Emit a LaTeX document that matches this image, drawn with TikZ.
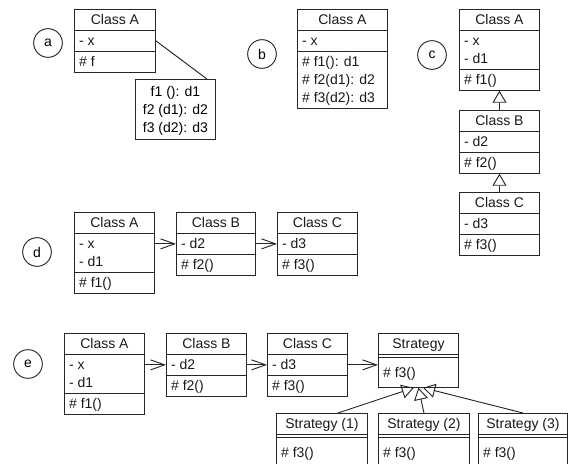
\documentclass[tikz,border=0pt]{standalone}
\usepackage{fontspec}
\setmainfont{Liberation Sans}
\usetikzlibrary{shapes, arrows.meta, positioning}

% struts for one text line and for the taller method rows
\newcommand\sx{\rule[-3pt]{0pt}{13.5pt}}
\newcommand\sy{\rule[-6pt]{0pt}{20.25pt}}
\newcommand\sz{\rule{0pt}{0.01pt}}

\begin{document}
\begin{tikzpicture}[x=0.75pt,y=-0.75pt,line width=0.7pt,
  umlbox/.style={rectangle split, rectangle split parts=3, draw=black!85,
  anchor=north west, inner xsep=3.5pt, inner ysep=0.75pt, minimum width=#1,
  rectangle split part align={center,left,left},
  font=\fontsize{10.5}{13.5}\selectfont, text=black!90},
  cls/.style={umlbox=#1, align=left},
  cls/.default=60pt,
  strat/.style={umlbox=#1},
  strat/.default=60pt,
  tag/.style={circle, draw=black!85, minimum size=21.5pt, inner sep=0pt,
  font=\fontsize{10.5}{13.5}\selectfont},
  memo/.style={rectangle, draw=black!85, anchor=north west, minimum width=60pt,
  minimum height=45pt, inner ysep=2.25pt, align=center,
  font=\fontsize{10.5}{13.5}\selectfont},
  dep/.style={-{Straight Barb[length=10.5pt,width=7.5pt]}, color=black!85},
  gen/.style={-{Triangle[open,length=9pt,width=10.5pt]}, color=black!85}]
  \clip (0,0) rectangle (569,464);
  \useasboundingbox (0,0) rectangle (569,464);

  % (a)
  \node[tag] (ta) at (48,43) {a};
  \node[cls=60.75pt] (Aa) at (74,9) {\sx Class A\nodepart{two}\sx - x\nodepart{three}\sx \# f};
  \node[memo] (note) at (135,79) {\sx f1 (): d1\\\sx f2 (d1): d2\\\sx f3 (d2): d3};

  % (b)
  \node[tag] (tb) at (262,54) {b};
  \node[cls=67.5pt] (Ab) at (297,9) {\sx Class A\nodepart{two}\sx - x\nodepart{three}\sx \# f1(): d1\\\sx \# f2(d1): d2\\\sx \# f3(d2): d3};

  % (c)
  \node[tag] (tc) at (432,55) {c};
  \node[cls] (Ac) at (459,9) {\sx Class A\nodepart{two}\sx - x\\\sx - d1\nodepart{three}\sx \# f1()};
  \node[cls] (Bc) at (459,110) {\sx Class B\nodepart{two}\sx - d2\nodepart{three}\sx \# f2()};
  \node[cls] (Cc) at (459,192) {\sx Class C\nodepart{two}\sx - d3\nodepart{three}\sx \# f3()};

  % (d)
  \node[tag] (td) at (37,252) {d};
  \node[cls] (Ad) at (74,212) {\sx Class A\nodepart{two}\sx - x\\\sx - d1\nodepart{three}\sx \# f1()};
  \node[cls=59.25pt] (Bd) at (176,212) {\sx Class B\nodepart{two}\sx - d2\nodepart{three}\sx \# f2()};
  \node[cls] (Cd) at (277,212) {\sx Class C\nodepart{two}\sx - d3\nodepart{three}\sx \# f3()};

  % (e)
  \node[tag] (te) at (28,364) {e};
  \node[cls] (Ae) at (64,333) {\sx Class A\nodepart{two}\sx - x\\\sx - d1\nodepart{three}\sx \# f1()};
  \node[cls] (Be) at (166,333) {\sx Class B\nodepart{two}\sx - d2\nodepart{three}\sx \# f2()};
  \node[cls] (Ce) at (267,333) {\sx Class C\nodepart{two}\sx - d3\nodepart{three}\sx \# f3()};
  \node[strat] (S) at (378,333) {\sx Strategy\nodepart{two}\sz\nodepart{three}\sy \# f3()};
  \node[strat=68.25pt] (S1) at (276,413) {\sx Strategy (1)\nodepart{two}\sz\nodepart{three}\sy \# f3()};
  \node[strat=68.25pt] (S2) at (378,413) {\sx Strategy (2)\nodepart{two}\sz\nodepart{three}\sy \# f3()};
  \node[strat=66.75pt] (S3) at (478,413) {\sx Strategy (3)\nodepart{two}\sz\nodepart{three}\sy \# f3()};

  \path[color=black!85]
     (Aa.two east) edge ([xshift=-6.75pt]note.north east);
  \path[gen]
     (Bc.north) edge (Ac.south)
     (Cc.north) edge (Bc.south)
     (S2.north) edge (S.south)
     ([xshift=12pt]S1.north) edge ([xshift=-3.5pt]S.south)
     (S3.north) edge ([xshift=3.5pt]S.south);
  \path[dep]
     (Ad.east |- Bd.two west) edge (Bd.two west)
     (Bd.two east) edge (Cd.two west)
     (Ae.east |- Be.two west) edge (Be.two west)
     (Be.two east) edge (Ce.two west)
     (Ce.two east) edge (Ce.two east -| S.west);
\end{tikzpicture}
\end{document}
